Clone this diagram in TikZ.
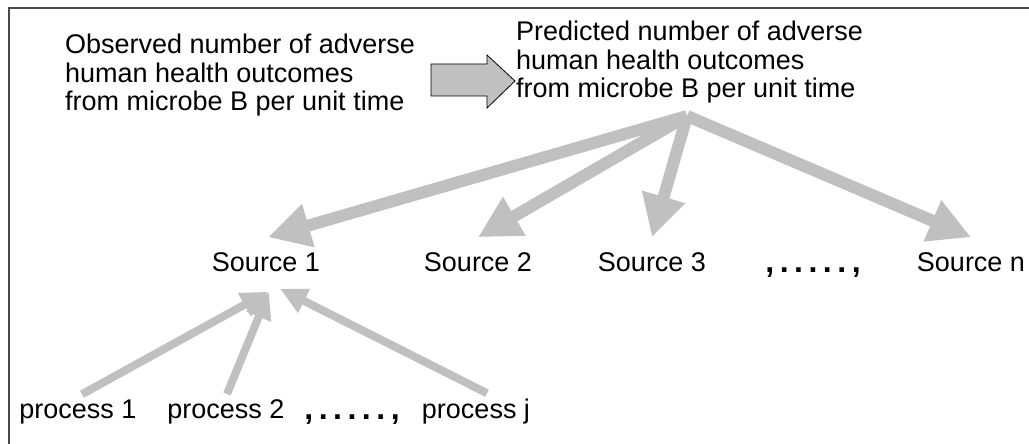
\documentclass[tikz,border=0pt]{standalone}
\usepackage{fontspec}
\setmainfont{Liberation Sans}
\usetikzlibrary{arrows.meta}
\definecolor{arrgray}{HTML}{C0C0C0}
\definecolor{framegray}{HTML}{4A4A4A}
\newcommand{\sepdots}{,\kern5.5pt.\kern5.5pt.\kern5.5pt.\kern5.5pt.\kern5.5pt.\kern5.5pt,}
\begin{document}
\begin{tikzpicture}[x=1pt,y=-1pt,
  txt/.style={font=\fontsize{27}{28.5}\selectfont, inner sep=0pt, align=left},
  dotsty/.style={font=\fontsize{32}{32}\selectfont\bfseries, inner sep=0pt},
  bigarr/.style={line width=12pt, draw=arrgray, -{Triangle[length=42pt,width=42pt]}},
  smallarr/.style={line width=8pt, draw=arrgray, -{Triangle[length=27pt,width=25pt]}},
  blockarr/.style={fill=arrgray, draw=black, line width=0.8pt, line join=miter},
  framesty/.style={draw=framegray, line width=2pt}]
\useasboundingbox (0,0) rectangle (1029,444);
\draw[framesty] (1029,8) -- (9,8) -- (9,444);

% top texts
\node[txt, anchor=north west] (obs) at (65,34) {Observed number of adverse\\human health outcomes\\from microbe B per unit time};
\node[txt, anchor=north west] (pred) at (516,21) {Predicted number of adverse\\human health outcomes\\from microbe B per unit time};

% block arrow
\draw[blockarr] (431,64) -- (487,64) -- (487,55) -- (515,81) -- (487,108) -- (487,96) -- (431,96) -- cycle;

% sources
\node[txt] (s1) at (266,262) {Source 1};
\node[txt] (s2) at (478,262) {Source 2};
\node[txt] (s3) at (652,262) {Source 3};
\node[dotsty, anchor=base] (sdots) at (813,272) {\sepdots};
\node[txt] (sn) at (971,262) {Source n};

% processes
\node[txt, anchor=base] (p1) at (78,418) {process 1};
\node[txt, anchor=base] (p2) at (226,418) {process 2};
\node[dotsty, anchor=base] (pdots) at (352,419) {\sepdots};
\node[txt, anchor=base] (pj) at (476,418) {process j};

% fan arrows
\coordinate (hub) at (687,116);
\draw[bigarr] (hub) -- ([xshift=2pt,yshift=15pt]s1.north);
\draw[bigarr] (hub) -- ([yshift=15pt]s2.north);
\draw[bigarr] (hub) -- ([yshift=15pt]s3.north);
\draw[bigarr] (hub) -- ([yshift=15pt]sn.north);

% process arrows
\draw[smallarr] ([xshift=4pt,yshift=5pt]p1.north) -- ([xshift=2pt,yshift=-20pt]s1.south);
\draw[smallarr] ([xshift=1pt,yshift=5pt]p2.north) -- ([xshift=3pt,yshift=-20pt]s1.south);
\draw[smallarr] ([xshift=11pt,yshift=5pt]pj.north) -- ([xshift=14pt,yshift=-17pt]s1.south);
\end{tikzpicture}
\end{document}
